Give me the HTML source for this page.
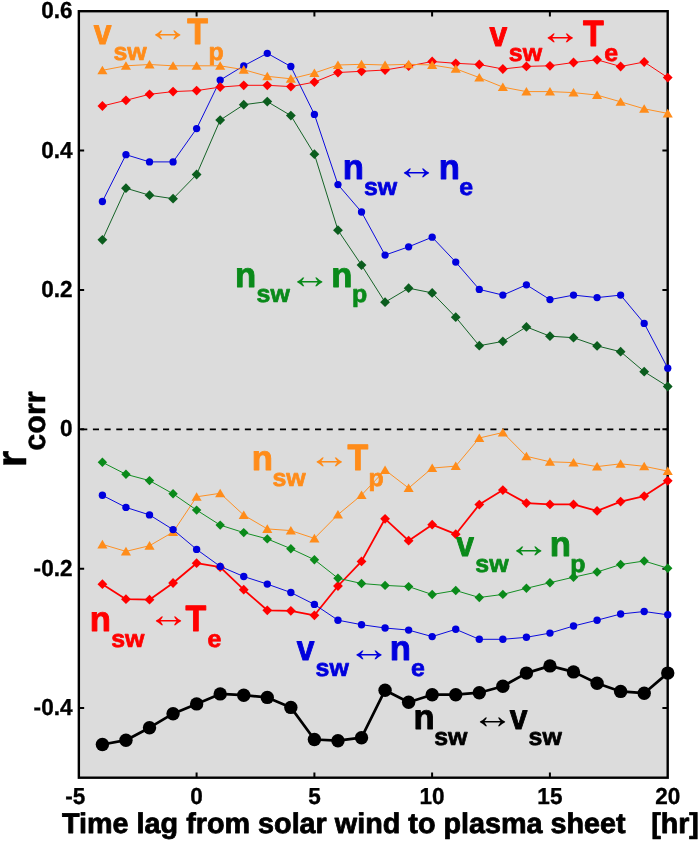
<!DOCTYPE html>
<html lang="en"><head><meta charset="utf-8"><title>Correlation vs time lag</title>
<style>
html,body{margin:0;padding:0;background:#fff}
svg{display:block}
text{font-family:"Liberation Sans",Arial,Helvetica,sans-serif;font-weight:bold;text-rendering:geometricPrecision}
.ar{font-weight:normal}
</style></head><body>
<svg width="699" height="841" viewBox="0 0 699 841">
<rect width="699" height="841" fill="#fff"/>
<rect x="78.85" y="11.2" width="588.85" height="766.5" fill="#dcdcdc"/>
<line x1="81.2" y1="429.3" x2="667.7" y2="429.3" stroke="#000" stroke-width="1.8" stroke-dasharray="6.1 5.59"/>
<rect x="78.85" y="11.2" width="588.85" height="766.5" fill="none" stroke="#000" stroke-width="2.4"/>
<path d="M78.85 150.6h5.3M667.7 150.6h-5.3M78.85 289.9h5.3M667.7 289.9h-5.3M78.85 429.3h5.3M667.7 429.3h-5.3M78.85 568.65h5.3M667.7 568.65h-5.3M78.85 708.0h5.3M667.7 708.0h-5.3M196.6 777.7v-5.3M196.6 11.2v5.3M314.4 777.7v-5.3M314.4 11.2v5.3M432.1 777.7v-5.3M432.1 11.2v5.3M549.9 777.7v-5.3M549.9 11.2v5.3" stroke="#000" stroke-width="2" fill="none"/>
<g fill="#0b5d1e" stroke="none">
<polyline points="102.4,239.8 125.96,188.2 149.51,195.2 173.07,198.7 196.62,174.5 220.18,120.1 243.74,104.7 267.29,101.6 290.85,115.6 314.4,154.2 337.96,230.2 361.52,265.1 385.07,302.2 408.63,288.2 432.18,292.9 455.74,317.2 479.3,345.7 502.85,341.4 526.41,326.9 549.96,336.2 573.52,337.7 597.08,345.9 620.63,351.7 644.19,371.7 667.74,386.5" fill="none" stroke="#0b5d1e" stroke-width="0.95" stroke-linejoin="round"/>
<path d="M102.4 234.9L107.3 239.8L102.4 244.7L97.5 239.8Z"/><path d="M125.96 183.3L130.86 188.2L125.96 193.1L121.06 188.2Z"/><path d="M149.51 190.3L154.41 195.2L149.51 200.1L144.61 195.2Z"/><path d="M173.07 193.8L177.97 198.7L173.07 203.6L168.17 198.7Z"/><path d="M196.62 169.6L201.52 174.5L196.62 179.4L191.72 174.5Z"/><path d="M220.18 115.2L225.08 120.1L220.18 125L215.28 120.1Z"/><path d="M243.74 99.8L248.64 104.7L243.74 109.6L238.84 104.7Z"/><path d="M267.29 96.7L272.19 101.6L267.29 106.5L262.39 101.6Z"/><path d="M290.85 110.7L295.75 115.6L290.85 120.5L285.95 115.6Z"/><path d="M314.4 149.3L319.3 154.2L314.4 159.1L309.5 154.2Z"/><path d="M337.96 225.3L342.86 230.2L337.96 235.1L333.06 230.2Z"/><path d="M361.52 260.2L366.42 265.1L361.52 270L356.62 265.1Z"/><path d="M385.07 297.3L389.97 302.2L385.07 307.1L380.17 302.2Z"/><path d="M408.63 283.3L413.53 288.2L408.63 293.1L403.73 288.2Z"/><path d="M432.18 288L437.08 292.9L432.18 297.8L427.28 292.9Z"/><path d="M455.74 312.3L460.64 317.2L455.74 322.1L450.84 317.2Z"/><path d="M479.3 340.8L484.2 345.7L479.3 350.6L474.4 345.7Z"/><path d="M502.85 336.5L507.75 341.4L502.85 346.3L497.95 341.4Z"/><path d="M526.41 322L531.31 326.9L526.41 331.8L521.51 326.9Z"/><path d="M549.96 331.3L554.86 336.2L549.96 341.1L545.06 336.2Z"/><path d="M573.52 332.8L578.42 337.7L573.52 342.6L568.62 337.7Z"/><path d="M597.08 341L601.98 345.9L597.08 350.8L592.18 345.9Z"/><path d="M620.63 346.8L625.53 351.7L620.63 356.6L615.73 351.7Z"/><path d="M644.19 366.8L649.09 371.7L644.19 376.6L639.29 371.7Z"/><path d="M667.74 381.6L672.64 386.5L667.74 391.4L662.84 386.5Z"/>
</g>
<g fill="#0000dd" stroke="none">
<polyline points="102.4,201.5 125.96,154.7 149.51,161.9 173.07,161.9 196.62,128.6 220.18,80.1 243.74,65.8 267.29,53.3 290.85,66.5 314.4,114.4 337.96,184.6 361.52,212 385.07,255.1 408.63,246.8 432.18,237.2 455.74,262.1 479.3,289.4 502.85,295.1 526.41,284.8 549.96,299.6 573.52,295.1 597.08,297.6 620.63,295.1 644.19,323.4 667.74,368.2" fill="none" stroke="#0000dd" stroke-width="0.95" stroke-linejoin="round"/>
<circle cx="102.4" cy="201.5" r="3.65"/><circle cx="125.96" cy="154.7" r="3.65"/><circle cx="149.51" cy="161.9" r="3.65"/><circle cx="173.07" cy="161.9" r="3.65"/><circle cx="196.62" cy="128.6" r="3.65"/><circle cx="220.18" cy="80.1" r="3.65"/><circle cx="243.74" cy="65.8" r="3.65"/><circle cx="267.29" cy="53.3" r="3.65"/><circle cx="290.85" cy="66.5" r="3.65"/><circle cx="314.4" cy="114.4" r="3.65"/><circle cx="337.96" cy="184.6" r="3.65"/><circle cx="361.52" cy="212" r="3.65"/><circle cx="385.07" cy="255.1" r="3.65"/><circle cx="408.63" cy="246.8" r="3.65"/><circle cx="432.18" cy="237.2" r="3.65"/><circle cx="455.74" cy="262.1" r="3.65"/><circle cx="479.3" cy="289.4" r="3.65"/><circle cx="502.85" cy="295.1" r="3.65"/><circle cx="526.41" cy="284.8" r="3.65"/><circle cx="549.96" cy="299.6" r="3.65"/><circle cx="573.52" cy="295.1" r="3.65"/><circle cx="597.08" cy="297.6" r="3.65"/><circle cx="620.63" cy="295.1" r="3.65"/><circle cx="644.19" cy="323.4" r="3.65"/><circle cx="667.74" cy="368.2" r="3.65"/>
</g>
<g fill="#ff0000" stroke="none">
<polyline points="102.4,106 125.96,100.3 149.51,94.3 173.07,91.6 196.62,90.6 220.18,87.1 243.74,85.3 267.29,85.3 290.85,86.6 314.4,82.1 337.96,72.5 361.52,71.3 385.07,70 408.63,66 432.18,61.5 455.74,63.3 479.3,64.5 502.85,69 526.41,66.4 549.96,65.8 573.52,62.5 597.08,59.8 620.63,66.5 644.19,62 667.74,77.6" fill="none" stroke="#ff0000" stroke-width="0.95" stroke-linejoin="round"/>
<path d="M102.4 101.1L107.3 106L102.4 110.9L97.5 106Z"/><path d="M125.96 95.4L130.86 100.3L125.96 105.2L121.06 100.3Z"/><path d="M149.51 89.4L154.41 94.3L149.51 99.2L144.61 94.3Z"/><path d="M173.07 86.7L177.97 91.6L173.07 96.5L168.17 91.6Z"/><path d="M196.62 85.7L201.52 90.6L196.62 95.5L191.72 90.6Z"/><path d="M220.18 82.2L225.08 87.1L220.18 92L215.28 87.1Z"/><path d="M243.74 80.4L248.64 85.3L243.74 90.2L238.84 85.3Z"/><path d="M267.29 80.4L272.19 85.3L267.29 90.2L262.39 85.3Z"/><path d="M290.85 81.7L295.75 86.6L290.85 91.5L285.95 86.6Z"/><path d="M314.4 77.2L319.3 82.1L314.4 87L309.5 82.1Z"/><path d="M337.96 67.6L342.86 72.5L337.96 77.4L333.06 72.5Z"/><path d="M361.52 66.4L366.42 71.3L361.52 76.2L356.62 71.3Z"/><path d="M385.07 65.1L389.97 70L385.07 74.9L380.17 70Z"/><path d="M408.63 61.1L413.53 66L408.63 70.9L403.73 66Z"/><path d="M432.18 56.6L437.08 61.5L432.18 66.4L427.28 61.5Z"/><path d="M455.74 58.4L460.64 63.3L455.74 68.2L450.84 63.3Z"/><path d="M479.3 59.6L484.2 64.5L479.3 69.4L474.4 64.5Z"/><path d="M502.85 64.1L507.75 69L502.85 73.9L497.95 69Z"/><path d="M526.41 61.5L531.31 66.4L526.41 71.3L521.51 66.4Z"/><path d="M549.96 60.9L554.86 65.8L549.96 70.7L545.06 65.8Z"/><path d="M573.52 57.6L578.42 62.5L573.52 67.4L568.62 62.5Z"/><path d="M597.08 54.9L601.98 59.8L597.08 64.7L592.18 59.8Z"/><path d="M620.63 61.6L625.53 66.5L620.63 71.4L615.73 66.5Z"/><path d="M644.19 57.1L649.09 62L644.19 66.9L639.29 62Z"/><path d="M667.74 72.7L672.64 77.6L667.74 82.5L662.84 77.6Z"/>
</g>
<g fill="#ff8c1a" stroke="none">
<polyline points="102.4,70.3 125.96,65.8 149.51,64.5 173.07,65.8 196.62,65.8 220.18,65.8 243.74,69.7 267.29,76.3 290.85,78.8 314.4,73 337.96,65 361.52,64.3 385.07,65 408.63,64.3 432.18,65 455.74,68.8 479.3,77.6 502.85,87.1 526.41,91.6 549.96,91.6 573.52,92.6 597.08,95.1 620.63,101.8 644.19,108.8 667.74,113.4" fill="none" stroke="#ff8c1a" stroke-width="0.95" stroke-linejoin="round"/>
<path d="M102.4 65.7L107.45 74.3L97.35 74.3Z"/><path d="M125.96 61.2L131.01 69.8L120.91 69.8Z"/><path d="M149.51 59.9L154.56 68.5L144.46 68.5Z"/><path d="M173.07 61.2L178.12 69.8L168.02 69.8Z"/><path d="M196.62 61.2L201.67 69.8L191.57 69.8Z"/><path d="M220.18 61.2L225.23 69.8L215.13 69.8Z"/><path d="M243.74 65.1L248.79 73.7L238.69 73.7Z"/><path d="M267.29 71.7L272.34 80.3L262.24 80.3Z"/><path d="M290.85 74.2L295.9 82.8L285.8 82.8Z"/><path d="M314.4 68.4L319.45 77L309.35 77Z"/><path d="M337.96 60.4L343.01 69L332.91 69Z"/><path d="M361.52 59.7L366.57 68.3L356.47 68.3Z"/><path d="M385.07 60.4L390.12 69L380.02 69Z"/><path d="M408.63 59.7L413.68 68.3L403.58 68.3Z"/><path d="M432.18 60.4L437.23 69L427.13 69Z"/><path d="M455.74 64.2L460.79 72.8L450.69 72.8Z"/><path d="M479.3 73L484.35 81.6L474.25 81.6Z"/><path d="M502.85 82.5L507.9 91.1L497.8 91.1Z"/><path d="M526.41 87L531.46 95.6L521.36 95.6Z"/><path d="M549.96 87L555.01 95.6L544.91 95.6Z"/><path d="M573.52 88L578.57 96.6L568.47 96.6Z"/><path d="M597.08 90.5L602.13 99.1L592.03 99.1Z"/><path d="M620.63 97.2L625.68 105.8L615.58 105.8Z"/><path d="M644.19 104.2L649.24 112.8L639.14 112.8Z"/><path d="M667.74 108.8L672.79 117.4L662.69 117.4Z"/>
</g>
<g fill="#ff8c1a" stroke="none">
<polyline points="102.4,544.4 125.96,551.4 149.51,545.7 173.07,532.1 196.62,496.8 220.18,493.3 243.74,515.1 267.29,528.9 290.85,530.6 314.4,538.4 337.96,514.6 361.52,495.1 385.07,470 408.63,488.1 432.18,468.1 455.74,466.1 479.3,438 502.85,432.5 526.41,456.3 549.96,461.8 573.52,462.6 597.08,466.6 620.63,463.8 644.19,466.3 667.74,471.1" fill="none" stroke="#ff8c1a" stroke-width="0.95" stroke-linejoin="round"/>
<path d="M102.4 539.8L107.45 548.4L97.35 548.4Z"/><path d="M125.96 546.8L131.01 555.4L120.91 555.4Z"/><path d="M149.51 541.1L154.56 549.7L144.46 549.7Z"/><path d="M173.07 527.5L178.12 536.1L168.02 536.1Z"/><path d="M196.62 492.2L201.67 500.8L191.57 500.8Z"/><path d="M220.18 488.7L225.23 497.3L215.13 497.3Z"/><path d="M243.74 510.5L248.79 519.1L238.69 519.1Z"/><path d="M267.29 524.3L272.34 532.9L262.24 532.9Z"/><path d="M290.85 526L295.9 534.6L285.8 534.6Z"/><path d="M314.4 533.8L319.45 542.4L309.35 542.4Z"/><path d="M337.96 510L343.01 518.6L332.91 518.6Z"/><path d="M361.52 490.5L366.57 499.1L356.47 499.1Z"/><path d="M385.07 465.4L390.12 474L380.02 474Z"/><path d="M408.63 483.5L413.68 492.1L403.58 492.1Z"/><path d="M432.18 463.5L437.23 472.1L427.13 472.1Z"/><path d="M455.74 461.5L460.79 470.1L450.69 470.1Z"/><path d="M479.3 433.4L484.35 442L474.25 442Z"/><path d="M502.85 427.9L507.9 436.5L497.8 436.5Z"/><path d="M526.41 451.7L531.46 460.3L521.36 460.3Z"/><path d="M549.96 457.2L555.01 465.8L544.91 465.8Z"/><path d="M573.52 458L578.57 466.6L568.47 466.6Z"/><path d="M597.08 462L602.13 470.6L592.03 470.6Z"/><path d="M620.63 459.2L625.68 467.8L615.58 467.8Z"/><path d="M644.19 461.7L649.24 470.3L639.14 470.3Z"/><path d="M667.74 466.5L672.79 475.1L662.69 475.1Z"/>
</g>
<g fill="#ff0000" stroke="none">
<polyline points="102.4,584.2 125.96,599.2 149.51,599.7 173.07,583 196.62,563.2 220.18,567.2 243.74,589.7 267.29,610.3 290.85,610.8 314.4,615.3 337.96,586 361.52,561.4 385.07,518.8 408.63,540.7 432.18,524.7 455.74,534.2 479.3,504.6 502.85,490.1 526.41,503.1 549.96,504.4 573.52,504.4 597.08,510.9 620.63,501.6 644.19,496.1 667.74,480.8" fill="none" stroke="#ff0000" stroke-width="1.8" stroke-linejoin="round"/>
<path d="M102.4 579.3L107.3 584.2L102.4 589.1L97.5 584.2Z"/><path d="M125.96 594.3L130.86 599.2L125.96 604.1L121.06 599.2Z"/><path d="M149.51 594.8L154.41 599.7L149.51 604.6L144.61 599.7Z"/><path d="M173.07 578.1L177.97 583L173.07 587.9L168.17 583Z"/><path d="M196.62 558.3L201.52 563.2L196.62 568.1L191.72 563.2Z"/><path d="M220.18 562.3L225.08 567.2L220.18 572.1L215.28 567.2Z"/><path d="M243.74 584.8L248.64 589.7L243.74 594.6L238.84 589.7Z"/><path d="M267.29 605.4L272.19 610.3L267.29 615.2L262.39 610.3Z"/><path d="M290.85 605.9L295.75 610.8L290.85 615.7L285.95 610.8Z"/><path d="M314.4 610.4L319.3 615.3L314.4 620.2L309.5 615.3Z"/><path d="M337.96 581.1L342.86 586L337.96 590.9L333.06 586Z"/><path d="M361.52 556.5L366.42 561.4L361.52 566.3L356.62 561.4Z"/><path d="M385.07 513.9L389.97 518.8L385.07 523.7L380.17 518.8Z"/><path d="M408.63 535.8L413.53 540.7L408.63 545.6L403.73 540.7Z"/><path d="M432.18 519.8L437.08 524.7L432.18 529.6L427.28 524.7Z"/><path d="M455.74 529.3L460.64 534.2L455.74 539.1L450.84 534.2Z"/><path d="M479.3 499.7L484.2 504.6L479.3 509.5L474.4 504.6Z"/><path d="M502.85 485.2L507.75 490.1L502.85 495L497.95 490.1Z"/><path d="M526.41 498.2L531.31 503.1L526.41 508L521.51 503.1Z"/><path d="M549.96 499.5L554.86 504.4L549.96 509.3L545.06 504.4Z"/><path d="M573.52 499.5L578.42 504.4L573.52 509.3L568.62 504.4Z"/><path d="M597.08 506L601.98 510.9L597.08 515.8L592.18 510.9Z"/><path d="M620.63 496.7L625.53 501.6L620.63 506.5L615.73 501.6Z"/><path d="M644.19 491.2L649.09 496.1L644.19 501L639.29 496.1Z"/><path d="M667.74 475.9L672.64 480.8L667.74 485.7L662.84 480.8Z"/>
</g>
<g fill="#0a8a1a" stroke="none">
<polyline points="102.4,462.3 125.96,474.3 149.51,480.6 173.07,493.8 196.62,510.1 220.18,525.1 243.74,532.6 267.29,538.9 290.85,548.7 314.4,559.7 337.96,578.2 361.52,583.5 385.07,585.4 408.63,586.6 432.18,594.5 455.74,590.5 479.3,597.5 502.85,594.4 526.41,588.3 549.96,582.7 573.52,577.2 597.08,572 620.63,564.5 644.19,561 667.74,568.2" fill="none" stroke="#0a8a1a" stroke-width="0.95" stroke-linejoin="round"/>
<path d="M102.4 457.6L107.1 462.3L102.4 467L97.7 462.3Z"/><path d="M125.96 469.6L130.66 474.3L125.96 479L121.26 474.3Z"/><path d="M149.51 475.9L154.21 480.6L149.51 485.3L144.81 480.6Z"/><path d="M173.07 489.1L177.77 493.8L173.07 498.5L168.37 493.8Z"/><path d="M196.62 505.4L201.32 510.1L196.62 514.8L191.92 510.1Z"/><path d="M220.18 520.4L224.88 525.1L220.18 529.8L215.48 525.1Z"/><path d="M243.74 527.9L248.44 532.6L243.74 537.3L239.04 532.6Z"/><path d="M267.29 534.2L271.99 538.9L267.29 543.6L262.59 538.9Z"/><path d="M290.85 544L295.55 548.7L290.85 553.4L286.15 548.7Z"/><path d="M314.4 555L319.1 559.7L314.4 564.4L309.7 559.7Z"/><path d="M337.96 573.5L342.66 578.2L337.96 582.9L333.26 578.2Z"/><path d="M361.52 578.8L366.22 583.5L361.52 588.2L356.82 583.5Z"/><path d="M385.07 580.7L389.77 585.4L385.07 590.1L380.37 585.4Z"/><path d="M408.63 581.9L413.33 586.6L408.63 591.3L403.93 586.6Z"/><path d="M432.18 589.8L436.88 594.5L432.18 599.2L427.48 594.5Z"/><path d="M455.74 585.8L460.44 590.5L455.74 595.2L451.04 590.5Z"/><path d="M479.3 592.8L484 597.5L479.3 602.2L474.6 597.5Z"/><path d="M502.85 589.7L507.55 594.4L502.85 599.1L498.15 594.4Z"/><path d="M526.41 583.6L531.11 588.3L526.41 593L521.71 588.3Z"/><path d="M549.96 578L554.66 582.7L549.96 587.4L545.26 582.7Z"/><path d="M573.52 572.5L578.22 577.2L573.52 581.9L568.82 577.2Z"/><path d="M597.08 567.3L601.78 572L597.08 576.7L592.38 572Z"/><path d="M620.63 559.8L625.33 564.5L620.63 569.2L615.93 564.5Z"/><path d="M644.19 556.3L648.89 561L644.19 565.7L639.49 561Z"/><path d="M667.74 563.5L672.44 568.2L667.74 572.9L663.04 568.2Z"/>
</g>
<g fill="#0000dd" stroke="none">
<polyline points="102.4,495.3 125.96,507.4 149.51,514.9 173.07,529.6 196.62,549.4 220.18,566.4 243.74,576.5 267.29,584.1 290.85,592.5 314.4,604.4 337.96,620.2 361.52,624.7 385.07,628 408.63,630.1 432.18,636.6 455.74,629.3 479.3,639.3 502.85,639.3 526.41,637.3 549.96,633.1 573.52,626 597.08,620.2 620.63,614 644.19,611.5 667.74,614.8" fill="none" stroke="#0000dd" stroke-width="0.95" stroke-linejoin="round"/>
<circle cx="102.4" cy="495.3" r="3.7"/><circle cx="125.96" cy="507.4" r="3.7"/><circle cx="149.51" cy="514.9" r="3.7"/><circle cx="173.07" cy="529.6" r="3.7"/><circle cx="196.62" cy="549.4" r="3.7"/><circle cx="220.18" cy="566.4" r="3.7"/><circle cx="243.74" cy="576.5" r="3.7"/><circle cx="267.29" cy="584.1" r="3.7"/><circle cx="290.85" cy="592.5" r="3.7"/><circle cx="314.4" cy="604.4" r="3.7"/><circle cx="337.96" cy="620.2" r="3.7"/><circle cx="361.52" cy="624.7" r="3.7"/><circle cx="385.07" cy="628" r="3.7"/><circle cx="408.63" cy="630.1" r="3.7"/><circle cx="432.18" cy="636.6" r="3.7"/><circle cx="455.74" cy="629.3" r="3.7"/><circle cx="479.3" cy="639.3" r="3.7"/><circle cx="502.85" cy="639.3" r="3.7"/><circle cx="526.41" cy="637.3" r="3.7"/><circle cx="549.96" cy="633.1" r="3.7"/><circle cx="573.52" cy="626" r="3.7"/><circle cx="597.08" cy="620.2" r="3.7"/><circle cx="620.63" cy="614" r="3.7"/><circle cx="644.19" cy="611.5" r="3.7"/><circle cx="667.74" cy="614.8" r="3.7"/>
</g>
<g fill="#000" stroke="none">
<polyline points="102.4,744.5 125.96,740.2 149.51,727.7 173.07,713.7 196.62,703.9 220.18,693.9 243.74,695.2 267.29,697.4 290.85,707.4 314.4,739.5 337.96,740.7 361.52,737.7 385.07,690.2 408.63,702.2 432.18,694.7 455.74,694.7 479.3,692.7 502.85,686.2 526.41,673.1 549.96,665.9 573.52,671.9 597.08,683.2 620.63,691.4 644.19,693.2 667.74,673.1" fill="none" stroke="#000" stroke-width="2.7" stroke-linejoin="round"/>
<circle cx="102.4" cy="744.5" r="6.7"/><circle cx="125.96" cy="740.2" r="6.7"/><circle cx="149.51" cy="727.7" r="6.7"/><circle cx="173.07" cy="713.7" r="6.7"/><circle cx="196.62" cy="703.9" r="6.7"/><circle cx="220.18" cy="693.9" r="6.7"/><circle cx="243.74" cy="695.2" r="6.7"/><circle cx="267.29" cy="697.4" r="6.7"/><circle cx="290.85" cy="707.4" r="6.7"/><circle cx="314.4" cy="739.5" r="6.7"/><circle cx="337.96" cy="740.7" r="6.7"/><circle cx="361.52" cy="737.7" r="6.7"/><circle cx="385.07" cy="690.2" r="6.7"/><circle cx="408.63" cy="702.2" r="6.7"/><circle cx="432.18" cy="694.7" r="6.7"/><circle cx="455.74" cy="694.7" r="6.7"/><circle cx="479.3" cy="692.7" r="6.7"/><circle cx="502.85" cy="686.2" r="6.7"/><circle cx="526.41" cy="673.1" r="6.7"/><circle cx="549.96" cy="665.9" r="6.7"/><circle cx="573.52" cy="671.9" r="6.7"/><circle cx="597.08" cy="683.2" r="6.7"/><circle cx="620.63" cy="691.4" r="6.7"/><circle cx="644.19" cy="693.2" r="6.7"/><circle cx="667.74" cy="673.1" r="6.7"/>
</g>
<text transform="translate(72.5 18.3) scale(0.96 0.985)" stroke="#000" stroke-width="0.35" font-size="23.5" text-anchor="end">0.6</text>
<text transform="translate(72.5 157.7) scale(0.96 0.985)" stroke="#000" stroke-width="0.35" font-size="23.5" text-anchor="end">0.4</text>
<text transform="translate(72.5 297) scale(0.96 0.985)" stroke="#000" stroke-width="0.35" font-size="23.5" text-anchor="end">0.2</text>
<text transform="translate(72.5 436.4) scale(0.96 0.985)" stroke="#000" stroke-width="0.35" font-size="23.5" text-anchor="end">0</text>
<text transform="translate(72.5 575.75) scale(0.96 0.985)" stroke="#000" stroke-width="0.35" font-size="23.5" text-anchor="end">-0.2</text>
<text transform="translate(72.5 715.1) scale(0.96 0.985)" stroke="#000" stroke-width="0.35" font-size="23.5" text-anchor="end">-0.4</text>
<text transform="translate(75.25 803.6) scale(0.96 0.985)" stroke="#000" stroke-width="0.35" font-size="23.5" text-anchor="middle">-5</text>
<text transform="translate(196.6 803.6) scale(0.96 0.985)" stroke="#000" stroke-width="0.35" font-size="23.5" text-anchor="middle">0</text>
<text transform="translate(314.4 803.6) scale(0.96 0.985)" stroke="#000" stroke-width="0.35" font-size="23.5" text-anchor="middle">5</text>
<text transform="translate(432.1 803.6) scale(0.96 0.985)" stroke="#000" stroke-width="0.35" font-size="23.5" text-anchor="middle">10</text>
<text transform="translate(549.9 803.6) scale(0.96 0.985)" stroke="#000" stroke-width="0.35" font-size="23.5" text-anchor="middle">15</text>
<text transform="translate(667.7 803.6) scale(0.96 0.985)" stroke="#000" stroke-width="0.35" font-size="23.5" text-anchor="middle">20</text>
<g stroke="#000" stroke-width="0.8" stroke-linejoin="round"><text x="62.0" y="832.5" font-size="28.6" textLength="563.7" lengthAdjust="spacingAndGlyphs">Time lag from solar wind to plasma sheet</text>
<text x="651.2" y="832.5" font-size="28.6">[hr]</text></g>
<text transform="translate(25.9 467.2) rotate(-90)" font-size="42.5" stroke="#000" stroke-width="0.5" stroke-linejoin="round">r<tspan font-size="30.5" dy="19.1">corr</tspan></text>
<g fill="#ff8c1a" stroke="#ff8c1a" stroke-linejoin="round"><text transform="translate(93.65 44.3) scale(0.91 1)" font-size="35" stroke-width="0.9">v</text><text transform="translate(113.51 59.5) scale(1.03 1)" font-size="24.2" stroke-width="0.7">sw</text><text transform="translate(146.6 40.61) scale(1 0.88)" font-size="42.5" stroke-width="0" class="ar">↔</text><text transform="translate(187.27 44.3) scale(0.97 1.045)" font-size="35" stroke-width="0.9">T</text><text transform="translate(208.48 59.5) scale(1.03 1)" font-size="24.2" stroke-width="0.7">p</text></g>
<g fill="#ff0000" stroke="#ff0000" stroke-linejoin="round"><text transform="translate(489.6 46) scale(0.91 1)" font-size="35" stroke-width="0.9">v</text><text transform="translate(508.81 60.8) scale(1.03 1)" font-size="24.2" stroke-width="0.7">sw</text><text transform="translate(539 44.31) scale(1 0.88)" font-size="42.5" stroke-width="0" class="ar">↔</text><text transform="translate(583.12 46) scale(0.97 1.045)" font-size="35" stroke-width="0.9">T</text><text transform="translate(604.21 60.8) scale(1.03 1)" font-size="24.2" stroke-width="0.7">e</text></g>
<g fill="#0000dd" stroke="#0000dd" stroke-linejoin="round"><text transform="translate(342.7 179.4) scale(0.99 1)" font-size="35" stroke-width="0.9">n</text><text transform="translate(364.01 194.6) scale(1.03 1)" font-size="24.2" stroke-width="0.7">sw</text><text transform="translate(395.35 179.11) scale(1 0.88)" font-size="42.5" stroke-width="0" class="ar">↔</text><text transform="translate(438.65 179.4) scale(0.99 1)" font-size="35" stroke-width="0.9">n</text><text transform="translate(459.21 194.6) scale(1.03 1)" font-size="24.2" stroke-width="0.7">e</text></g>
<g fill="#0a8a1a" stroke="#0a8a1a" stroke-linejoin="round"><text transform="translate(235.05 286.6) scale(0.99 1)" font-size="35" stroke-width="0.9">n</text><text transform="translate(256.61 302) scale(1.03 1)" font-size="24.2" stroke-width="0.7">sw</text><text transform="translate(288.5 287.61) scale(1 0.88)" font-size="42.5" stroke-width="0" class="ar">↔</text><text transform="translate(331.2 286.6) scale(0.99 1)" font-size="35" stroke-width="0.9">n</text><text transform="translate(351.93 302) scale(1.03 1)" font-size="24.2" stroke-width="0.7">p</text></g>
<g fill="#ff8c1a" stroke="#ff8c1a" stroke-linejoin="round"><text transform="translate(251.75 469.7) scale(0.99 1)" font-size="35" stroke-width="0.9">n</text><text transform="translate(272.51 485.8) scale(1.03 1)" font-size="24.2" stroke-width="0.7">sw</text><text transform="translate(308.05 467.71) scale(1 0.88)" font-size="42.5" stroke-width="0" class="ar">↔</text><text transform="translate(347.42 469.7) scale(0.97 1.045)" font-size="35" stroke-width="0.9">T</text><text transform="translate(368.58 485.8) scale(1.03 1)" font-size="24.2" stroke-width="0.7">p</text></g>
<g fill="#0a8a1a" stroke="#0a8a1a" stroke-linejoin="round"><text transform="translate(456.2 555.8) scale(0.91 1)" font-size="35" stroke-width="0.9">v</text><text transform="translate(475.31 572.1) scale(1.03 1)" font-size="24.2" stroke-width="0.7">sw</text><text transform="translate(507.45 557.31) scale(1 0.88)" font-size="42.5" stroke-width="0" class="ar">↔</text><text transform="translate(549.7 555.8) scale(0.99 1)" font-size="35" stroke-width="0.9">n</text><text transform="translate(570.13 572.1) scale(1.03 1)" font-size="24.2" stroke-width="0.7">p</text></g>
<g fill="#ff0000" stroke="#ff0000" stroke-linejoin="round"><text transform="translate(89.65 631.1) scale(0.99 1)" font-size="35" stroke-width="0.9">n</text><text transform="translate(111.21 646.8) scale(1.03 1)" font-size="24.2" stroke-width="0.7">sw</text><text transform="translate(147.15 627.01) scale(1 0.88)" font-size="42.5" stroke-width="0" class="ar">↔</text><text transform="translate(185.52 631.1) scale(0.97 1.045)" font-size="35" stroke-width="0.9">T</text><text transform="translate(207.46 646.8) scale(1.03 1)" font-size="24.2" stroke-width="0.7">e</text></g>
<g fill="#0000dd" stroke="#0000dd" stroke-linejoin="round"><text transform="translate(296.75 660.1) scale(0.91 1)" font-size="35" stroke-width="0.9">v</text><text transform="translate(315.61 676) scale(1.03 1)" font-size="24.2" stroke-width="0.7">sw</text><text transform="translate(347.85 660.51) scale(1 0.88)" font-size="42.5" stroke-width="0" class="ar">↔</text><text transform="translate(389.7 660.1) scale(0.99 1)" font-size="35" stroke-width="0.9">n</text><text transform="translate(411.06 676) scale(1.03 1)" font-size="24.2" stroke-width="0.7">e</text></g>
<g fill="#000" stroke="#000" stroke-linejoin="round"><text transform="translate(413.55 729) scale(0.99 1)" font-size="35" stroke-width="0.9">n</text><text transform="translate(434.21 744.6) scale(1.03 1)" font-size="24.2" stroke-width="0.7">sw</text><text transform="translate(471.25 727.81) scale(1 0.88)" font-size="42.5" stroke-width="0" class="ar">↔</text><text transform="translate(509.75 729) scale(0.91 1)" font-size="35" stroke-width="0.9">v</text><text transform="translate(528.61 744.6) scale(1.03 1)" font-size="24.2" stroke-width="0.7">sw</text></g>
</svg>
</body></html>
